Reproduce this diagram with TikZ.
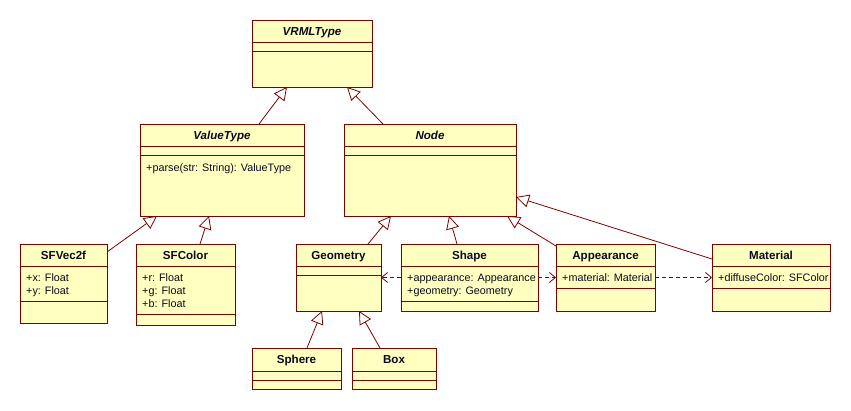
\documentclass[tikz,border=0pt]{standalone}
\usepackage{fontspec}
\setmainfont{Liberation Sans}
\usetikzlibrary{arrows.meta}
\definecolor{umlfill}{RGB}{255,255,192}
\definecolor{umlline}{RGB}{128,0,0}
\definecolor{umltext}{RGB}{10,10,30}
\tikzset{
  cls/.style={draw=umlline, fill=umlfill, line width=1pt, anchor=north west, inner sep=0pt, outer sep=0pt},
  sep/.style={draw=umlline, line width=1pt},
  ttl/.style={anchor=base, inner sep=0pt, text=umltext, font=\fontsize{11.6}{13}\selectfont\bfseries},
  attr/.style={anchor=base west, inner sep=0pt, text=umltext, font=\fontsize{10.8}{13}\selectfont},
  gen/.style={draw=umlline, line width=0.8pt, -{Triangle[open, length=13pt, width=13pt, line width=0.8pt]}},
  dep/.style={draw=umlline, line width=0.8pt, dash pattern=on 4pt off 3pt, -{Straight Barb[length=6pt, width=10pt, line width=0.8pt]}}
}
\begin{document}
\begin{tikzpicture}[x=1pt, y=-1pt]
\fill[white] (0,0) rectangle (851,410);
\useasboundingbox (0,0) rectangle (851,410);

% VRMLType
\node[cls, minimum width=120pt, minimum height=67pt] (vrml) at (252,20) {};
\draw[sep] (252,42) -- (372,42); \draw[sep] (252,51) -- (372,51);
\node[ttl] (vrmlT) at (312,35) {\itshape VRMLType};

% ValueType
\node[cls, minimum width=164pt, minimum height=92pt] (valuetype) at (140,124) {};
\draw[sep] (140,146) -- (304,146); \draw[sep] (140,155) -- (304,155);
\node[ttl] (valuetypeT) at (222,139) {\itshape ValueType};
\node[attr] (valuetypeA) at (146,171) {+parse(str: String): ValueType};

% Node
\node[cls, minimum width=172pt, minimum height=92pt] (node) at (344,124) {};
\draw[sep] (344,146) -- (516,146); \draw[sep] (344,155) -- (516,155);
\node[ttl] (nodeT) at (430,139) {\itshape Node};

% SFVec2f
\node[cls, minimum width=87pt, minimum height=79pt] (sfvec) at (20,244) {};
\draw[sep] (20,266) -- (107,266); \draw[sep] (20,301) -- (107,301);
\node[ttl] (sfvecT) at (63.5,259) {SFVec2f};
\node[attr] (sfvecA1) at (26,281) {+x: Float};
\node[attr] (sfvecA2) at (26,294) {+y: Float};

% SFColor
\node[cls, minimum width=99pt, minimum height=81pt] (sfcolor) at (136,244) {};
\draw[sep] (136,266) -- (235,266); \draw[sep] (136,314) -- (235,314);
\node[ttl] (sfcolorT) at (185.5,259) {SFColor};
\node[attr] (sfcolorA1) at (142,281) {+r: Float};
\node[attr] (sfcolorA2) at (142,294) {+g: Float};
\node[attr] (sfcolorA3) at (142,307) {+b: Float};

% Geometry
\node[cls, minimum width=85pt, minimum height=67pt] (geometry) at (296,244) {};
\draw[sep] (296,266) -- (381,266); \draw[sep] (296,275) -- (381,275);
\node[ttl] (geometryT) at (338.5,259) {Geometry};

% Shape
\node[cls, minimum width=137pt, minimum height=67pt] (shape) at (401,244) {};
\draw[sep] (401,266) -- (538,266); \draw[sep] (401,301) -- (538,301);
\node[ttl] (shapeT) at (469.5,259) {Shape};
\node[attr] (shapeA1) at (407,281) {+appearance: Appearance};
\node[attr] (shapeA2) at (407,294) {+geometry: Geometry};

% Appearance
\node[cls, minimum width=99pt, minimum height=67pt] (appearance) at (556,244) {};
\draw[sep] (556,266) -- (655,266); \draw[sep] (556,288) -- (655,288);
\node[ttl] (appearanceT) at (605.5,259) {Appearance};
\node[attr] (appearanceA) at (562,281) {+material: Material};

% Material
\node[cls, minimum width=118pt, minimum height=67pt] (material) at (712,244) {};
\draw[sep] (712,266) -- (830,266); \draw[sep] (712,288) -- (830,288);
\node[ttl] (materialT) at (771,259) {Material};
\node[attr] (materialA) at (718,281) {+diffuseColor: SFColor};

% Sphere
\node[cls, minimum width=89pt, minimum height=41pt] (sphere) at (252,348) {};
\draw[sep] (252,371) -- (341,371); \draw[sep] (252,380) -- (341,380);
\node[ttl] (sphereT) at (296.5,363) {Sphere};

% Box
\node[cls, minimum width=84pt, minimum height=41pt] (box) at (352,348) {};
\draw[sep] (352,371) -- (436,371); \draw[sep] (352,380) -- (436,380);
\node[ttl] (boxT) at (394,363) {Box};

% Generalizations
\draw[gen] ([xshift=119pt]valuetype.north west) -- ([xshift=35pt]vrml.south west);
\draw[gen] ([xshift=39pt]node.north west) -- ([xshift=95pt]vrml.south west);
\draw[gen] ([yshift=-8pt]sfvec.north east) -- ([xshift=17pt]valuetype.south west);
\draw[gen] ([xshift=64pt]sfcolor.north west) -- ([xshift=69pt]valuetype.south west);
\draw[gen] ([xshift=72pt]geometry.north west) -- ([xshift=47pt]node.south west);
\draw[gen] ([xshift=56pt]shape.north west) -- ([xshift=105pt]node.south west);
\draw[gen] ([yshift=-2pt]appearance.north west) -- ([xshift=163pt]node.south west);
\draw[gen] ([yshift=-15pt]material.north west) -- ([yshift=-73pt]node.north east);
\draw[gen] ([xshift=55pt]sphere.north west) -- ([xshift=26pt]geometry.south west);
\draw[gen] ([xshift=28pt]box.north west) -- ([xshift=63pt]geometry.south west);

% Dependencies
\draw[dep] (shape.west) -- (geometry.east);
\draw[dep] (shape.east) -- (appearance.west);
\draw[dep] (appearance.east) -- (material.west);
\end{tikzpicture}
\end{document}
